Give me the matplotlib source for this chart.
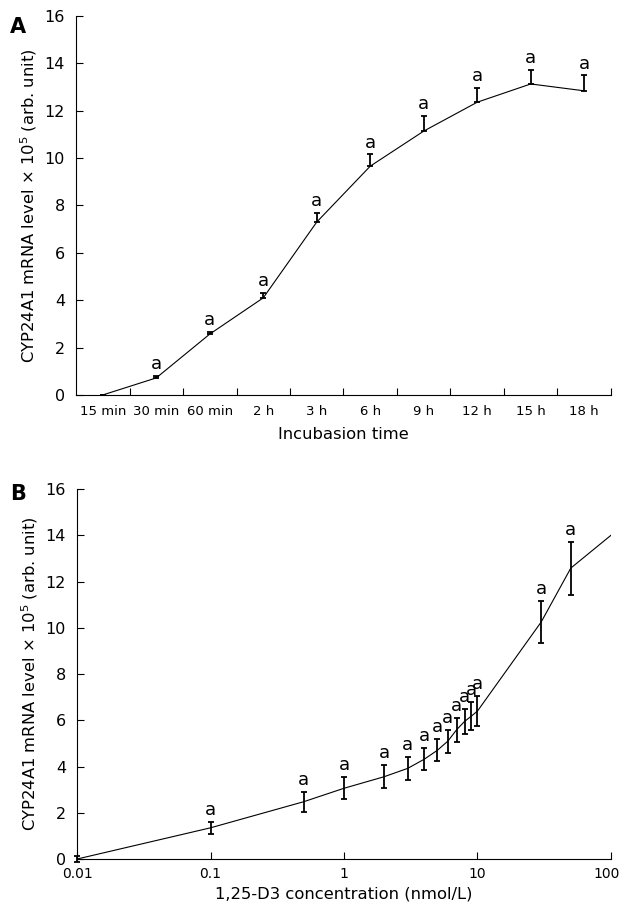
import matplotlib
matplotlib.use('Agg')
import matplotlib.pyplot as plt
import matplotlib.transforms as mtransforms
import numpy as np

plt.rcParams['font.family'] = ['DejaVu Sans']
plt.rcParams['mathtext.default'] = 'regular'

# panel A: incubation time course
time_labels = ['15 min', '30 min', '60 min', '2 h', '3 h', '6 h', '9 h', '12 h', '15 h', '18 h']
time_values = [0.0, 0.72, 2.57, 4.1, 7.3, 9.66, 11.14, 12.36, 13.13, 12.84]
time_err_up = [0.0, 0.1, 0.08, 0.2, 0.4, 0.5, 0.65, 0.6, 0.6, 0.65]
time_sig = [False, True, True, True, True, True, True, True, True, True]

# panel B: dose response
dose = [0.01, 0.1, 0.5, 1, 2, 3, 4, 5, 6, 7, 8, 9, 10, 30, 50, 100]
dose_values = [0.0, 1.35, 2.48, 3.06, 3.56, 3.92, 4.32, 4.7, 5.1, 5.6, 5.95, 6.18, 6.4, 10.25, 12.58, 14.0]
dose_err = [0.12, 0.25, 0.44, 0.48, 0.5, 0.5, 0.47, 0.48, 0.5, 0.52, 0.54, 0.6, 0.65, 0.9, 1.15, 0.0]
dose_sig = [False] + [True] * 14 + [False]

ylab = 'CYP24A1 mRNA level × 10$^5$ (arb. unit)'
lab_fs = 11.8   # axis titles
ytick_fs = 11.5
xtick_fs = 9.5
a_fs = 13

fig = plt.figure(figsize=(6.22, 9.13), dpi=100)

#----- panel A -----
ax1 = fig.add_axes([0.1222, 0.5674, 0.8601, 0.4151])
xpos = np.arange(len(time_labels)) + 0.5
ax1.plot(xpos, time_values, color='black', lw=0.8)
ax1.errorbar(xpos, time_values, yerr=[np.zeros(len(time_err_up)), time_err_up],
             fmt='none', ecolor='black', elinewidth=1.3, capsize=2.5, capthick=1.3)
for x, v, e, s in zip(xpos, time_values, time_err_up, time_sig):
    if s:
        ax1.annotate('a', (x, v + e), xytext=(0, 2), textcoords='offset points',
                     ha='center', va='bottom', fontsize=a_fs)
ax1.set_xlim(0, len(time_labels))
ax1.set_ylim(0, 16)
ax1.set_yticks(range(0, 17, 2))
ax1.set_xticks(np.arange(1, len(time_labels) + 1))
ax1.set_xticklabels([])
ax1.set_xticks(xpos, minor=True)
ax1.set_xticklabels(time_labels, minor=True)
ax1.tick_params(axis='x', which='minor', length=0, pad=7, labelsize=xtick_fs)
ax1.tick_params(axis='both', which='major', direction='in', length=5, labelsize=ytick_fs)
ax1.tick_params(axis='y', pad=8)
ax1.set_xlabel('Incubasion time', fontsize=lab_fs, labelpad=7)
ax1.set_ylabel(ylab, fontsize=lab_fs, labelpad=4)
for sp in ['top', 'right']:
    ax1.spines[sp].set_visible(False)
fig.text(0.016, 0.964, 'A', fontsize=15, fontweight='bold')

#----- panel B -----
ax2 = fig.add_axes([0.1238, 0.0591, 0.8585, 0.4053])
ax2.plot(dose, dose_values, color='black', lw=0.8)
ax2.errorbar(dose[:-1], dose_values[:-1], yerr=dose_err[:-1], fmt='none',
             ecolor='black', elinewidth=1.3, capsize=2.2, capthick=1.3, clip_on=False)
for x, v, e, s in zip(dose, dose_values, dose_err, dose_sig):
    if s:
        ax2.annotate('a', (x, v + e), xytext=(0, 2), textcoords='offset points',
                     ha='center', va='bottom', fontsize=a_fs)
ax2.set_xscale('log')
ax2.set_xlim(0.01, 100)
ax2.set_ylim(0, 16)
ax2.set_yticks(range(0, 17, 2))
ax2.set_xticks([0.01, 0.1, 1, 10, 100])
ax2.set_xticklabels(['0.01', '0.1', '1', '10', '100'])
ax2.xaxis.set_minor_locator(matplotlib.ticker.NullLocator())
ax2.tick_params(axis='x', which='major', direction='in', length=5, labelsize=xtick_fs + 0.5, pad=6)
ax2.tick_params(axis='y', which='major', direction='in', length=5, labelsize=ytick_fs, pad=8)
# last label sits a little left of its tick in the original
last = ax2.get_xticklabels()[-1]
last.set_transform(last.get_transform() + mtransforms.ScaledTranslation(-4 / 100, 0, fig.dpi_scale_trans))
ax2.set_xlabel('1,25-D3 concentration (nmol/L)', fontsize=lab_fs, labelpad=4)
ax2.set_ylabel(ylab, fontsize=lab_fs, labelpad=4)
for sp in ['top', 'right']:
    ax2.spines[sp].set_visible(False)
fig.text(0.016, 0.452, 'B', fontsize=15, fontweight='bold')

fig.savefig('out.png', dpi=100)
